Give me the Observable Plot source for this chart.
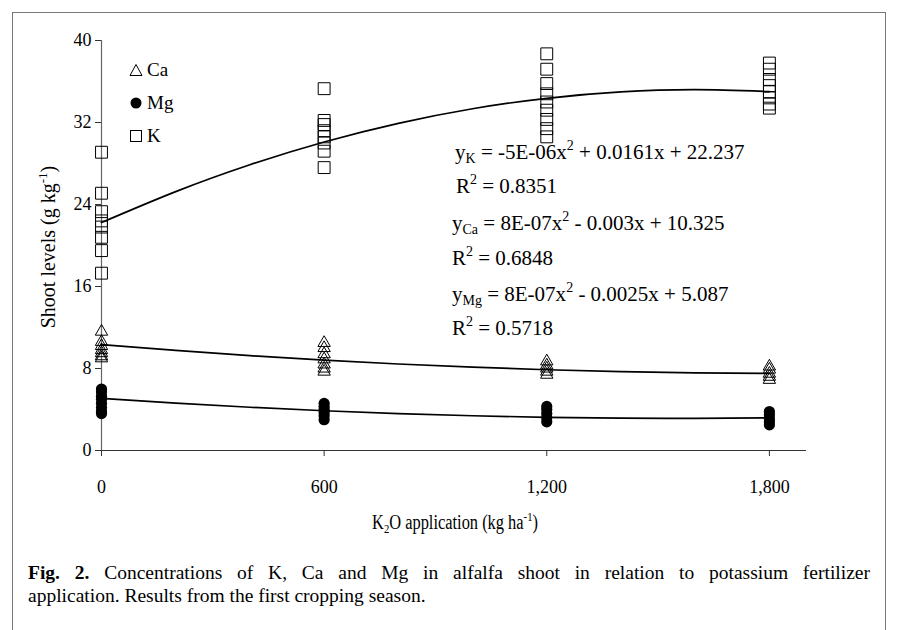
<!DOCTYPE html>
<html><head><meta charset="utf-8">
<script src="https://cdn.jsdelivr.net/npm/d3@7"></script>
<script src="https://cdn.jsdelivr.net/npm/@observablehq/plot@0.6"></script>
<style>
body{margin:0;background:#fff;}
#wrap{position:relative;width:898px;height:630px;overflow:hidden;font-family:"Liberation Serif","Times New Roman",serif;color:#000;}
#frame{position:absolute;left:12px;top:12px;width:874px;height:640px;border:1.5px solid #777;box-sizing:border-box;}
#chart{position:absolute;left:0;top:0;}
.abs{position:absolute;white-space:nowrap;line-height:1;}
.eq{font-size:21px;}
.eq sub{font-size:14px;vertical-align:-4px;line-height:0;}
.eq sup{font-size:14px;vertical-align:9px;line-height:0;}
.lg{position:absolute;left:129px;display:flex;align-items:center;font-size:19px;line-height:1;}
.lg svg{margin-right:4px;}
.ttl{font-size:20px;}
.ttl sup{font-size:13px;vertical-align:8px;line-height:0;}
.ttl sub{font-size:13px;vertical-align:-4px;line-height:0;}
#cap{position:absolute;left:28px;top:561px;width:842px;font-size:19.5px;line-height:23px;}
#cap .l1{text-align:justify;text-align-last:justify;}
</style></head>
<body>
<div id="wrap">
  <div id="frame"></div>
  <div id="chart"></div>
</div>
<script>
// x positions (K2O application, kg/ha)
const xLevels = [0, 600, 1200, 1800];
const xTicks = [0, 600, 1200, 1800];
const yTicks = [0, 8, 16, 24, 32, 40];

// Observed shoot levels (g/kg) at each K2O level
const kByLevel = [
  [29.1, 25.1, 23.3, 22.4, 21.8, 20.8, 19.5, 17.3],
  [35.3, 32.2, 31.8, 31.2, 30.6, 30.0, 29.2, 27.6],
  [38.7, 37.2, 35.8, 34.8, 34.0, 33.2, 32.3, 31.4, 30.6],
  [37.8, 37.2, 36.2, 35.6, 35.0, 34.4, 33.8, 33.4]
];
const caByLevel = [
  [11.6, 10.6, 10.2, 9.8, 9.5, 9.2, 9.0],
  [10.5, 10.0, 9.4, 8.9, 8.4, 8.0, 7.7],
  [8.7, 8.3, 8.0, 7.7, 7.4],
  [8.2, 7.9, 7.5, 7.2, 6.9]
];
const mgByLevel = [
  [6.0, 5.7, 5.3, 5.0, 4.6, 4.2, 3.8, 3.6],
  [4.6, 4.3, 4.0, 3.7, 3.4, 3.0],
  [4.3, 4.0, 3.6, 3.2, 2.8],
  [3.8, 3.5, 3.1, 2.8, 2.5]
];

// Trend lines
const trendX = [0, 200, 400, 600, 800, 1000, 1200, 1400, 1600, 1800];
const kTrend  = [22.24, 25.26, 27.88, 30.10, 31.92, 33.34, 34.36, 34.98, 35.20, 35.02];
const caTrend = [10.33, 9.76, 9.25, 8.81, 8.44, 8.13, 7.88, 7.69, 7.57, 7.52];
const mgTrend = [5.09, 4.62, 4.22, 3.88, 3.60, 3.39, 3.24, 3.16, 3.14, 3.18];

// Text
const eqLines = [
  {html: "y<sub>K</sub> = -5E-06x<sup>2</sup> + 0.0161x + 22.237", left: 455, top: 142},
  {html: "R<sup>2</sup> = 0.8351", left: 456, top: 176},
  {html: "y<sub>Ca</sub> = 8E-07x<sup>2</sup> - 0.003x + 10.325", left: 452, top: 213},
  {html: "R<sup>2</sup> = 0.6848", left: 452, top: 248},
  {html: "y<sub>Mg</sub> = 8E-07x<sup>2</sup> - 0.0025x + 5.087", left: 452, top: 284},
  {html: "R<sup>2</sup> = 0.5718", left: 452, top: 318}
];
const legendItems = [
  {label: "Ca", symbol: "triangle"},
  {label: "Mg", symbol: "circle"},
  {label: "K", symbol: "square"}
];
const yTitle = "Shoot levels (g kg<sup>-1</sup>)";
const xTitle = "K<sub>2</sub>O application (kg ha<sup>-1</sup>)";
const capLine1 = "<b>Fig. 2.</b> Concentrations of K, Ca and Mg in alfalfa shoot in relation to potassium fertilizer";
const capLine2 = "application. Results from the first cropping season.";

const toRows = (arr) => xLevels.flatMap((x, i) => arr[i].map(y => ({x, y})));
const toTrend = (ys) => trendX.map((x, i) => ({x, y: ys[i]}));

const chart = Plot.plot({
  width: 898, height: 520,
  marginLeft: 101, marginRight: 92, marginTop: 40, marginBottom: 70,
  style: {fontFamily: "Liberation Serif, serif", fontSize: "18px", color: "#000", background: "transparent", overflow: "visible"},
  x: {domain: [0, 1900], label: null},
  y: {domain: [0, 40], label: null},
  marks: [
    Plot.axisX({ticks: xTicks, tickFormat: d3.format(","), tickSize: 6, tickPadding: 24, label: null, stroke: "#333", fontSize: 18}),
    Plot.axisY({ticks: yTicks, tickSize: 6, tickPadding: 4, label: null, stroke: "#333", fontSize: 18}),
    Plot.ruleX([0], {stroke: "#666", strokeWidth: 1.2}),
    Plot.ruleY([0], {stroke: "#333", strokeWidth: 1.2}),
    Plot.line(toTrend(kTrend), {x: "x", y: "y", stroke: "#000", strokeWidth: 1.7, curve: "natural"}),
    Plot.line(toTrend(caTrend), {x: "x", y: "y", stroke: "#000", strokeWidth: 1.7, curve: "natural"}),
    Plot.line(toTrend(mgTrend), {x: "x", y: "y", stroke: "#000", strokeWidth: 1.7, curve: "natural"}),
    Plot.dot(toRows(kByLevel), {x: "x", y: "y", symbol: "square", r: 6.7, stroke: "#000", fill: "none", strokeWidth: 1}),
    Plot.dot(toRows(caByLevel), {x: "x", y: "y", symbol: "triangle", r: 4.6, stroke: "#000", fill: "none", strokeWidth: 1}),
    Plot.dot(toRows(mgByLevel), {x: "x", y: "y", symbol: "circle", r: 5.6, fill: "#000", stroke: "none"})
  ]
});
document.getElementById("chart").appendChild(chart);

const wrap = document.getElementById("wrap");
function add(cls, html, css) {
  const d = document.createElement("div");
  d.className = cls;
  d.innerHTML = html;
  Object.assign(d.style, css);
  wrap.appendChild(d);
  return d;
}
eqLines.forEach(e => add("abs eq", e.html, {left: e.left + "px", top: e.top + "px"}));

// legend
const glyph = {
  triangle: '<svg width="14" height="14"><polygon points="7,1.5 13,12.5 1,12.5" fill="none" stroke="#000" stroke-width="1"/></svg>',
  circle: '<svg width="14" height="14"><circle cx="7" cy="7" r="5.5" fill="#000"/></svg>',
  square: '<svg width="14" height="14"><rect x="1.5" y="1.5" width="11" height="11" fill="none" stroke="#000" stroke-width="1"/></svg>'
};
const legendTops = [60, 93, 126];
legendItems.forEach((it, i) => add("lg", glyph[it.symbol] + "<span>" + it.label + "</span>", {top: legendTops[i] + "px"}));

// axis titles
add("abs ttl", yTitle, {left: "-102px", top: "237px", width: "300px", textAlign: "center", transform: "rotate(-90deg)", transformOrigin: "150px 10px"});
add("abs ttl", xTitle, {left: "305px", top: "512px", width: "300px", textAlign: "center", transform: "scaleX(0.82)", transformOrigin: "150px 10px"});

// caption
add("", '<div class="l1">' + capLine1 + '</div><div>' + capLine2 + '</div>', {}).id = "cap";
</script>
</body></html>
